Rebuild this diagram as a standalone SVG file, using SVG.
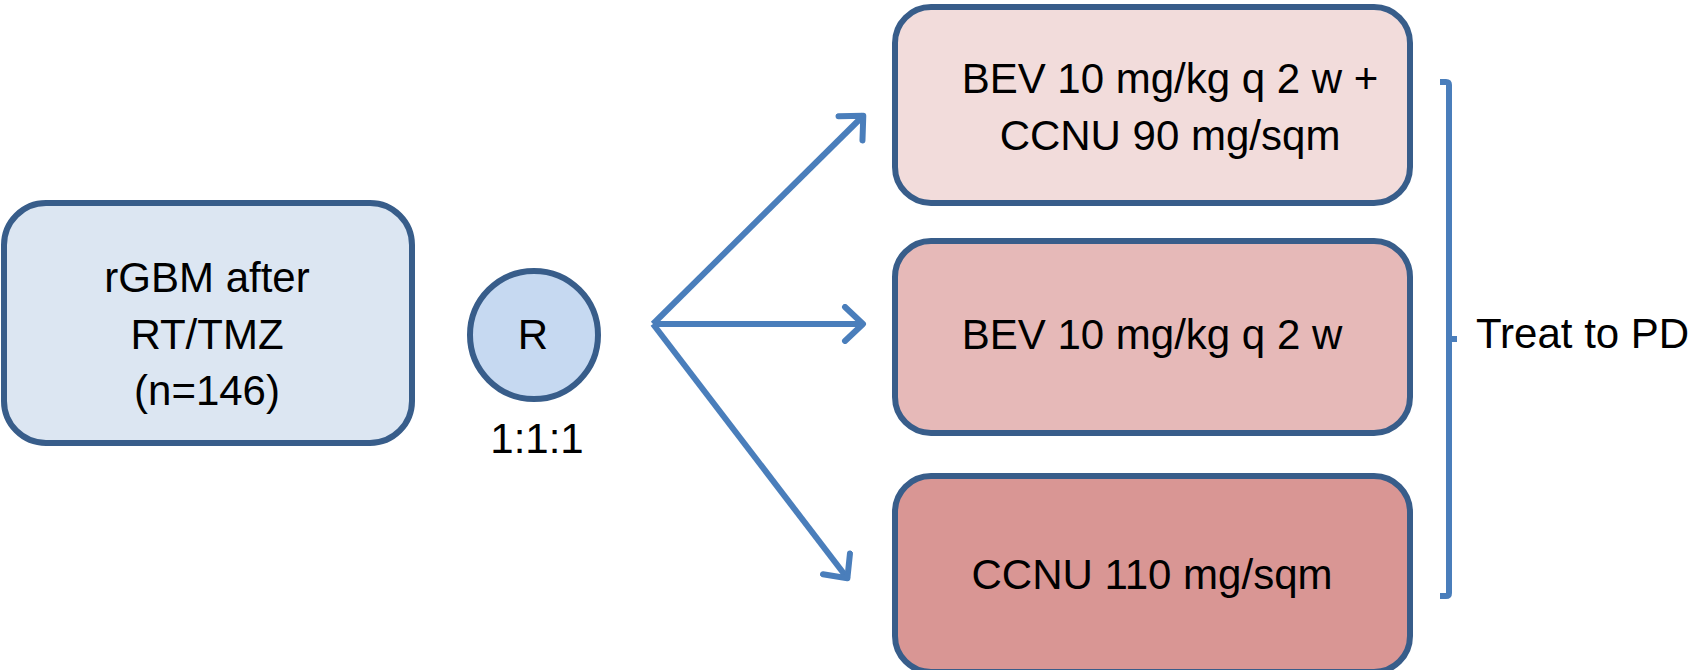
<svg xmlns="http://www.w3.org/2000/svg" width="1695" height="670" viewBox="0 0 1695 670">
<style>
  .box { stroke: #385D8A; stroke-width: 6; }
  .lbl { font-family: "Liberation Sans", Arial, sans-serif; font-size: 42px; fill: #000; text-anchor: middle; }
  .conn { stroke: #4A7EBB; stroke-width: 6; fill: none; stroke-linecap: butt; }
  .brk { stroke: #4A7EBB; stroke-width: 6; fill: none; stroke-linejoin: round; }
</style>
<defs>
  <marker id="arr" viewBox="-25 -20 30 40" refX="0" refY="0" markerWidth="30" markerHeight="40" markerUnits="userSpaceOnUse" orient="auto">
    <path d="M-19,-17 L-1,0 L-19,17" fill="none" stroke="#4A7EBB" stroke-width="6" stroke-linecap="round" stroke-linejoin="round"/>
  </marker>
</defs>
<rect width="1695" height="670" fill="#FFFFFF"/>

<g id="connectors">
  <line class="conn" x1="653" y1="324" x2="864" y2="115" marker-end="url(#arr)"/>
  <line class="conn" x1="653" y1="324" x2="864" y2="324" marker-end="url(#arr)"/>
  <line class="conn" x1="653" y1="324" x2="848" y2="579" marker-end="url(#arr)"/>
</g>

<g id="node-rgbm">
  <rect class="box" x="4" y="203" width="408" height="240" rx="42" fill="#DCE6F2"/>
  <text class="lbl" x="207" y="292">rGBM after</text>
  <text class="lbl" x="207" y="349">RT/TMZ</text>
  <text class="lbl" x="207" y="405">(n=146)</text>
</g>

<g id="node-r">
  <circle class="box" cx="534" cy="335" r="64" fill="#C6D9F1"/>
  <text class="lbl" x="533" y="349">R</text>
  <text class="lbl" x="537" y="453">1:1:1</text>
</g>

<g id="node-arm1">
  <rect class="box" x="895" y="7" width="515" height="196" rx="36" fill="#F2DCDB"/>
  <text class="lbl" x="1170" y="93">BEV 10 mg/kg q 2 w +</text>
  <text class="lbl" x="1170" y="150">CCNU 90 mg/sqm</text>
</g>

<g id="node-arm2">
  <rect class="box" x="895" y="241" width="515" height="192" rx="36" fill="#E6B9B8"/>
  <text class="lbl" x="1152" y="349">BEV 10 mg/kg q 2 w</text>
</g>

<g id="node-arm3">
  <rect class="box" x="895" y="476" width="515" height="196" rx="36" fill="#D99694"/>
  <text class="lbl" x="1152" y="589">CCNU 110 mg/sqm</text>
</g>

<g id="node-bracket">
  <path class="brk" d="M1440,82 L1446,82 Q1449,82 1449,85 L1449,593 Q1449,596 1446,596 L1440,596 M1449,339 L1457,339"/>
  <text class="lbl" x="1476" y="348" style="text-anchor:start">Treat to PD</text>
</g>
</svg>
